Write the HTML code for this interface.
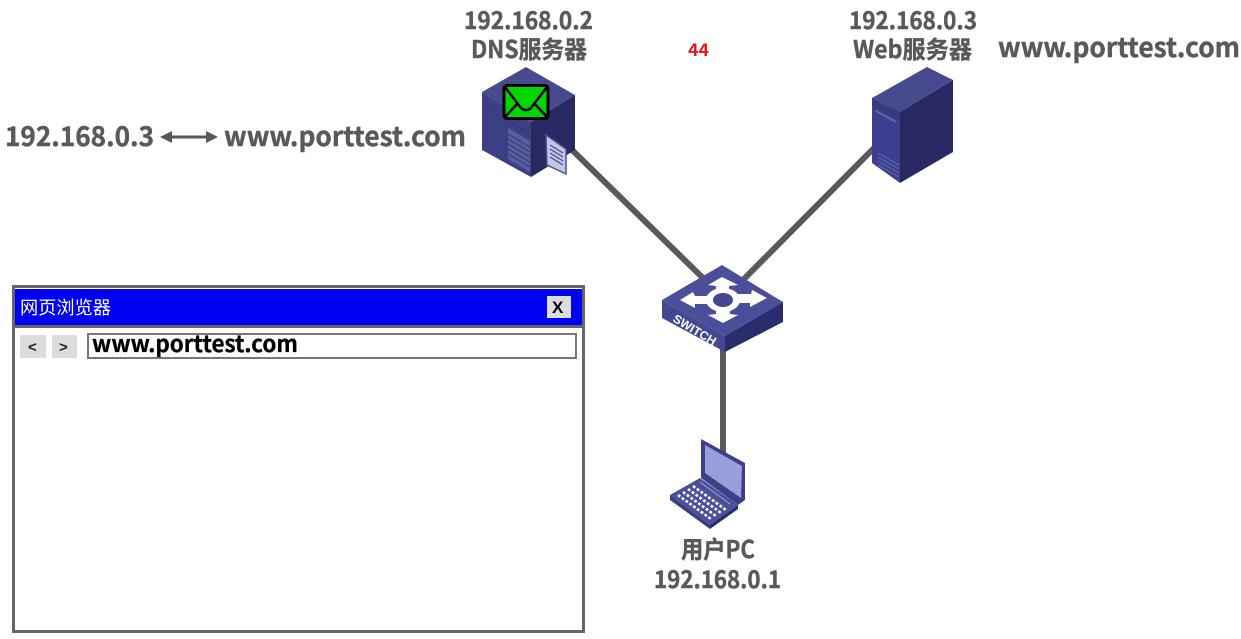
<!DOCTYPE html>
<html><head><meta charset="utf-8"><style>
html,body{margin:0;padding:0;background:#fff}
svg{display:block}
text{font-family:"Noto Sans CJK SC","Liberation Sans",sans-serif}
.l{font-weight:700;fill:#595959;stroke:#595959;stroke-width:.4}
</style></head><body>
<svg width="1241" height="639" viewBox="0 0 1241 639" xmlns="http://www.w3.org/2000/svg">
<rect width="1241" height="639" fill="#fff"/>
<!-- links -->
<g stroke="#595959" stroke-width="6" fill="none">
<line x1="568" y1="146" x2="706" y2="281"/>
<line x1="876" y1="146" x2="742" y2="281"/>
<line x1="723" y1="345" x2="723" y2="455"/>
</g>
<!-- labels -->
<text class="l" x="464" y="29" font-size="24" textLength="129" lengthAdjust="spacingAndGlyphs">192.168.0.2</text>
<text class="l" x="471" y="58" font-size="24" textLength="116" lengthAdjust="spacingAndGlyphs">DNS服务器</text>
<text class="l" x="849" y="29" font-size="24" textLength="128" lengthAdjust="spacingAndGlyphs">192.168.0.3</text>
<text class="l" x="853" y="58" font-size="24" textLength="119" lengthAdjust="spacingAndGlyphs">Web服务器</text>
<text class="l" x="998" y="57" font-size="27" textLength="242" lengthAdjust="spacingAndGlyphs">www.porttest.com</text>
<text class="l" x="5" y="146" font-size="27" textLength="149" lengthAdjust="spacingAndGlyphs">192.168.0.3</text>
<text class="l" x="224" y="146" font-size="27" textLength="242" lengthAdjust="spacingAndGlyphs">www.porttest.com</text>
<text class="l" x="681" y="558" font-size="24" textLength="74" lengthAdjust="spacingAndGlyphs">用户PC</text>
<text class="l" x="654" y="588" font-size="24" textLength="127" lengthAdjust="spacingAndGlyphs">192.168.0.1</text>
<text x="688" y="56" font-size="17" fill="#e8141c" font-weight="700" textLength="21" lengthAdjust="spacingAndGlyphs">44</text>
<!-- double arrow -->
<line x1="168" y1="137" x2="210" y2="137" stroke="#595959" stroke-width="3"/>
<polygon points="160,137 172,131 172,143" fill="#595959"/>
<polygon points="218,137 206,131 206,143" fill="#595959"/>
<!-- DNS server -->
<polygon points="526,67 575,95 531,122 482,92" fill="#484a8e"/>
<polygon points="482,92 531,122 531,177 482,150" fill="#3c3f86"/>
<polygon points="531,122 575,95 575,150 531,177" fill="#282963"/>
<polygon points="508,128 530,141 530,172 508,159" fill="#5a5d9c"/>
<g stroke="#34366f" stroke-width="1">
<line x1="508" y1="134" x2="530" y2="147"/><line x1="508" y1="139" x2="530" y2="152"/><line x1="508" y1="144" x2="530" y2="157"/><line x1="508" y1="149" x2="530" y2="162"/><line x1="508" y1="154" x2="530" y2="167"/>
<line x1="484" y1="106" x2="530" y2="134"/>
</g>
<polygon points="546,135 566,149 566,174 547,165" fill="#c4c6e6" stroke="#4f5193" stroke-width="1.5"/>
<g stroke="#4a4c8c" stroke-width="1.3">
<line x1="550" y1="145" x2="563" y2="153"/><line x1="550" y1="149" x2="563" y2="157"/><line x1="550" y1="153" x2="563" y2="161"/><line x1="550" y1="157" x2="563" y2="165"/>
</g>
<!-- envelope -->
<rect x="504" y="85.500" width="44" height="33" rx="3" fill="#00d600" stroke="#000" stroke-width="3"/>
<path d="M505,87 L521,108 Q526,112 531,108 L547,87 M505,117 L518,103 M547,117 L534,103" fill="none" stroke="#000" stroke-width="2.500"/>
<!-- Web server -->
<polygon points="927,67 953,80 900,112 872,98" fill="#484a90"/>
<polygon points="872,98 900,112 900,183 872,163" fill="#3c3f90"/>
<polygon points="900,112 953,80 953,152 900,183" fill="#282963"/>
<polygon points="872,98 900,112 900,120 872,106" fill="#383a7c"/>
<line x1="876" y1="111" x2="896" y2="122" stroke="#6d70ad" stroke-width="1.500"/>
<g stroke="#6568a8" stroke-width="1">
<line x1="878" y1="153" x2="899" y2="165"/><line x1="878" y1="157" x2="899" y2="169"/><line x1="878" y1="161" x2="899" y2="173"/><line x1="878" y1="165" x2="899" y2="177"/>
</g>
<!-- Switch -->
<polygon points="722,265 783,302 725,336 662,300" fill="#4b4e98"/>
<polygon points="662,300 725,336 725,352 662,318" fill="#444792"/>
<polygon points="725,336 783,302 783,322 725,352" fill="#2b2c6c"/>
<g fill="#fff">
<polygon points="722,277 738,285 729,286 729,292 716,292 716,286 708,285"/>
<polygon points="723,323 708,315 716,314 716,308 730,308 730,314 738,315"/>
<polygon points="680,300 693,292 695,296 708,296 708,304 695,304 695,308"/>
<polygon points="767,298 752,290 751,294 737,294 737,303 750,303 750,307"/>
</g>
<ellipse cx="723" cy="300" rx="17" ry="12" fill="#fff"/>
<ellipse cx="723" cy="300" rx="10" ry="7" fill="#444792"/>
<text x="0" y="0" transform="translate(672,321) rotate(31)" font-size="12" font-weight="700" fill="#fff" textLength="48" lengthAdjust="spacingAndGlyphs" style="font-family:'Liberation Sans',sans-serif">SWITCH</text>
<!-- Laptop -->
<polygon points="701,439 745,463 745,500 738,505 701,478" fill="#3d4088"/>
<polygon points="705,445 742,466 741,498 705,473" fill="#9a9fdc"/>
<polygon points="670,495 700,478 738,505 710,525" fill="#4b4e98"/>
<polygon points="670,495 710,525 710,529 670,500" fill="#3a3c80"/>
<polygon points="710,525 738,505 738,509 710,529" fill="#2b2c6c"/>
<line x1="700" y1="482" x2="730" y2="504" stroke="#9a9fdc" stroke-width="1"/>
<g stroke="#fff" stroke-width="2.600" stroke-dasharray="2.800 1.900" fill="none">
<line x1="678" y1="495" x2="711" y2="519"/>
<line x1="683" y1="492" x2="716" y2="516"/>
<line x1="688" y1="489" x2="721" y2="513"/>
<line x1="693" y1="486" x2="726" y2="510"/>
</g>
<!-- Browser window -->
<rect x="13.500" y="286.500" width="570" height="345" fill="#fff" stroke="#666" stroke-width="3"/>
<rect x="15" y="289" width="567" height="36" fill="#0000f5"/>
<rect x="15" y="325" width="567" height="3" fill="#666"/>
<text x="20" y="314" font-size="18" fill="#fff" textLength="91" lengthAdjust="spacingAndGlyphs">网页浏览器</text>
<rect x="547" y="296" width="24" height="22" fill="#dcdcdc"/>
<text x="552" y="313" font-size="17" font-weight="700" fill="#000" style="font-family:'Liberation Sans',sans-serif">X</text>
<rect x="20" y="335" width="26" height="23" fill="#dcdcdc"/>
<rect x="52" y="335" width="25" height="23" fill="#dcdcdc"/>
<text x="28" y="352" font-size="15" font-weight="700" fill="#222" style="font-family:'Liberation Sans',sans-serif">&lt;</text>
<text x="59" y="352" font-size="15" font-weight="700" fill="#222" style="font-family:'Liberation Sans',sans-serif">&gt;</text>
<rect x="88" y="334" width="488" height="24" fill="#fff" stroke="#777" stroke-width="2"/>
<text x="92" y="352" font-size="23" font-weight="700" fill="#000" stroke="#000" stroke-width=".3" textLength="206" lengthAdjust="spacingAndGlyphs">www.porttest.com</text>
</svg>
</body></html>
